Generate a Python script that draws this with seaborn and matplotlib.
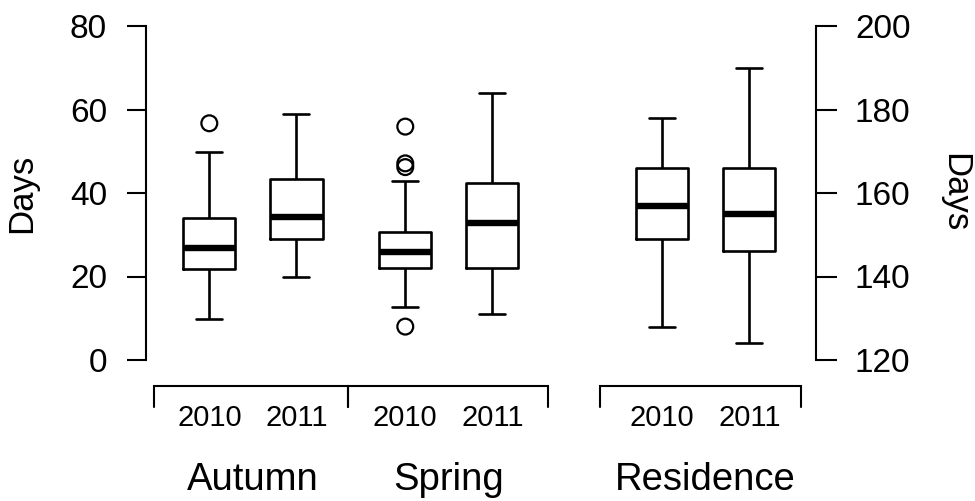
import numpy as np
import pandas as pd
import matplotlib
matplotlib.use("Agg")
import matplotlib.pyplot as plt
import matplotlib.transforms as mtransforms
import seaborn as sns

# ---------------- data ----------------
# five-number summaries: lower whisker, Q1, median, Q3, upper whisker
autumn_2010 = [9.9, 21.9, 26.9, 33.9, 49.9]
autumn_2011 = [19.9, 28.9, 34.3, 43.4, 58.9]
spring_2010 = [12.8, 22.0, 25.9, 30.7, 42.9]
spring_2011 = [10.9, 22.0, 32.9, 42.3, 63.9]
residence_2010 = [128.0, 149.1, 157.0, 166.0, 177.9]   # right axis
residence_2011 = [124.0, 146.0, 155.0, 166.0, 190.0]   # right axis
autumn_2010_outliers = [56.7]
spring_2010_outliers = [55.9, 47.1, 46.2, 8.0]

year_labels = ["2010", "2011", "2010", "2011", "2010", "2011"]
group_labels = ["Autumn", "Spring", "Residence"]
left_ticks = [0, 20, 40, 60, 80]
right_ticks = [120, 140, 160, 180, 200]

# ---------------- layout ----------------
box_positions = [1.0, 2.0, 3.25, 4.25, 6.2, 7.2]
bracket_spans = [(0.365, 2.598), (2.598, 4.892), (5.486, 7.79)]
group_centers = [1.5, 3.75, 6.7]

left_df = pd.DataFrame({
    "pos": np.repeat(box_positions[:4], 5),
    "days": autumn_2010 + autumn_2011 + spring_2010 + spring_2011,
})
right_df = pd.DataFrame({
    "pos": np.repeat(box_positions[4:], 5),
    "days": residence_2010 + residence_2011,
})
out_df = pd.DataFrame({
    "pos": [box_positions[0]] * len(autumn_2010_outliers)
           + [box_positions[2]] * len(spring_2010_outliers),
    "days": autumn_2010_outliers + spring_2010_outliers,
})

sns.set_theme(style="white")
plt.rcParams["font.family"] = ["Liberation Sans", "DejaVu Sans"]
plt.rcParams.update({
    "text.color": "black", "axes.labelcolor": "black",
    "xtick.color": "black", "ytick.color": "black",
})

fig = plt.figure(figsize=(9.75, 5.01), dpi=100)
W, H = 975, 501
ax = fig.add_axes([146 / W, (H - 360) / H, 670 / W, 334 / H])
ax2 = ax.twinx()

box_kw = dict(orient="x", native_scale=True, fill=False, color="black",
              width=0.6, whis=(0, 100), linewidth=1.9,
              medianprops={"linewidth": 4.6, "color": "black"})
sns.boxplot(data=left_df, x="pos", y="days", ax=ax, **box_kw)
sns.boxplot(data=right_df, x="pos", y="days", ax=ax2, **box_kw)

sns.scatterplot(data=out_df, x="pos", y="days", ax=ax, marker="o", s=130,
                color="black", linewidth=1.6, zorder=5)
for coll in ax.collections:
    coll.set_facecolor("none")
    coll.set_edgecolor("black")

ax.set_xlim(0.273, 7.966)
ax.set_ylim(0, 80)
ax2.set_ylim(120, 200)

ax.set_yticks(left_ticks)
ax2.set_yticks(right_ticks)
ax.tick_params(axis="y", left=True, length=14, width=1.5, pad=14,
               labelsize=24, colors="black")
ax2.tick_params(axis="y", right=True, length=15, width=1.5, pad=13,
                labelsize=24, colors="black")
ax.set_xticks([])
ax2.set_xticks([])
ax.set_xlabel("")
ax2.set_xlabel("")

for s in ["top", "right", "bottom"]:
    ax.spines[s].set_visible(False)
for s in ["top", "left", "bottom"]:
    ax2.spines[s].set_visible(False)
ax.spines["left"].set_linewidth(1.5)
ax2.spines["right"].set_linewidth(1.5)
ax.spines["left"].set_color("black")
ax2.spines["right"].set_color("black")

ax.set_ylabel("Days", fontsize=25, va="center")
ax.yaxis.set_label_coords(-0.185, 0.5)
ax2.set_ylabel("Days", fontsize=25, rotation=270, va="center")
ax2.yaxis.set_label_coords(1.2075, 0.5)

trans = mtransforms.blended_transform_factory(ax.transData, ax.transAxes)
y_line, y_tick = -0.0778, -0.1407
for x0, x1 in bracket_spans:
    ax.plot([x0, x0, x1, x1], [y_tick, y_line, y_line, y_tick],
            transform=trans, color="black", lw=1.5, clip_on=False,
            solid_joinstyle="miter")

for x, lab in zip(box_positions, year_labels):
    ax.text(x, -0.199, lab, transform=trans, ha="center", va="baseline",
            fontsize=21)
for x, lab in zip(group_centers, group_labels):
    ax.text(x, -0.389, lab, transform=trans, ha="center", va="baseline",
            fontsize=27.5)

fig.savefig("out.png", dpi=100)
